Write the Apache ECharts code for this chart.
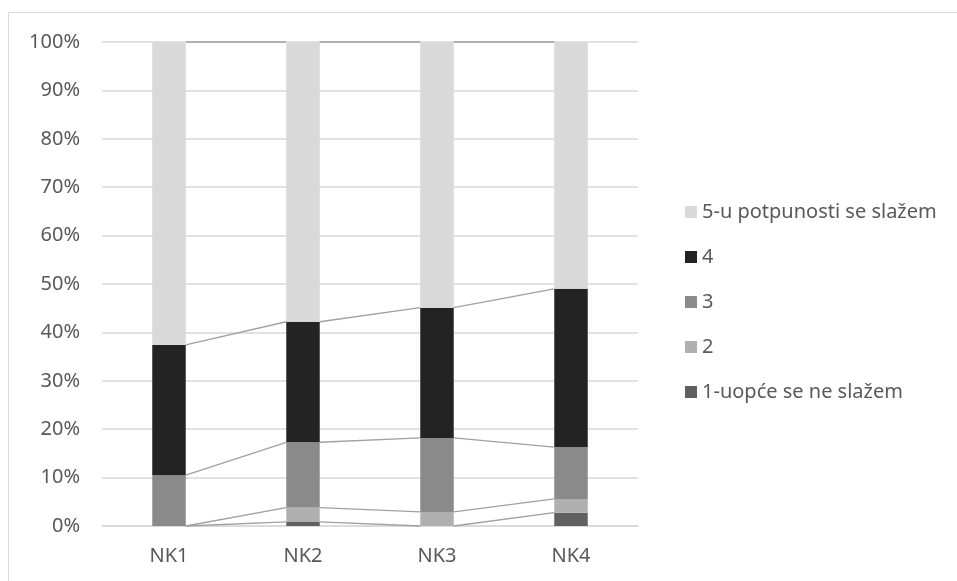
<!DOCTYPE html>
<html><head><meta charset="utf-8">
<script src="https://cdn.jsdelivr.net/npm/echarts@6/dist/echarts.min.js"></script>
<style>html,body{margin:0;padding:0;background:#fff}#c{width:957px;height:581px}</style>
</head><body><div id="c"></div>
<script>
const categories = ['NK1', 'NK2', 'NK3', 'NK4'];
const s1 = [0, 0.85, 0, 2.75];          // 1-uopće se ne slažem
const s2 = [0, 2.95, 2.9, 2.85];        // 2
const s3 = [10.5, 13.5, 15.3, 10.7];    // 3
const s4 = [26.9, 24.9, 26.9, 32.7];    // 4
const s5 = [62.6, 57.8, 54.9, 51.0];    // 5-u potpunosti se slažem
const names = ['1-uopće se ne slažem', '2', '3', '4', '5-u potpunosti se slažem'];
const yTicks = [0, 10, 20, 30, 40, 50, 60, 70, 80, 90, 100];

const colors = ['#606060', '#b0b0b0', '#8a8a8a', '#232323', '#d9d9d9'];
const allSeries = [s1, s2, s3, s4, s5];
const FONT = 'Noto Sans';
const BAR_FRAC = 0.25;

// cumulative tops for series lines
const cum = [];
let run = categories.map(() => 0);
allSeries.forEach(s => { run = run.map((v, i) => v + s[i]); cum.push(run.slice()); });
const segs = [];
cum.forEach(level => {
  for (let i = 0; i < categories.length - 1; i++) segs.push([i, level[i], level[i + 1]]);
});

const series = allSeries.map((s, k) => ({
  name: names[k], type: 'bar', stack: 'all', data: s,
  barWidth: (BAR_FRAC * 100) + '%',
  itemStyle: { color: colors[k] }, z: 3
}));
series.push({
  type: 'custom', data: segs, z: 2, silent: true,
  renderItem: function (params, api) {
    const i = api.value(0);
    const p1 = api.coord([i, api.value(1)]);
    const p2 = api.coord([i + 1, api.value(2)]);
    const bw = api.size([1, 0])[0] * BAR_FRAC;
    return { type: 'line', shape: { x1: p1[0] + bw / 2, y1: p1[1], x2: p2[0] - bw / 2, y2: p2[1] },
      style: { stroke: '#a0a0a0', lineWidth: 1.3 } };
  },
  encode: { x: 0, y: 1 }
});

const chart = echarts.init(document.getElementById('c'));
chart.setOption({
  animation: false,
  textStyle: { fontFamily: FONT },
  graphic: [{ type: 'rect', shape: { x: 8.5, y: 12.5, width: 1000, height: 600 },
    style: { fill: 'none', stroke: '#d9d9d9', lineWidth: 1 }, z: -10 }],
  grid: { left: 102, right: 319, top: 42, bottom: 55 },
  legend: {
    orient: 'vertical', left: 680, top: 196, itemWidth: 12, itemHeight: 12, itemGap: 23,
    icon: 'rect', data: names.slice().reverse(),
    textStyle: { fontFamily: FONT, fontSize: 20, color: '#595959', lineHeight: 22 }
  },
  xAxis: {
    type: 'category', data: categories,
    axisLine: { lineStyle: { color: '#d9d9d9', width: 1.5 } }, axisTick: { show: false },
    axisLabel: { color: '#595959', fontSize: 20, margin: 20, fontFamily: FONT }
  },
  yAxis: {
    type: 'value', min: yTicks[0], max: yTicks[yTicks.length - 1], interval: yTicks[1] - yTicks[0],
    axisLabel: { color: '#595959', fontSize: 20, margin: 22, formatter: '{value}%', fontFamily: FONT },
    splitLine: { lineStyle: { color: '#d9d9d9', width: 1.5 } },
    axisLine: { show: false }, axisTick: { show: false }
  },
  series: series
});
</script></body></html>
